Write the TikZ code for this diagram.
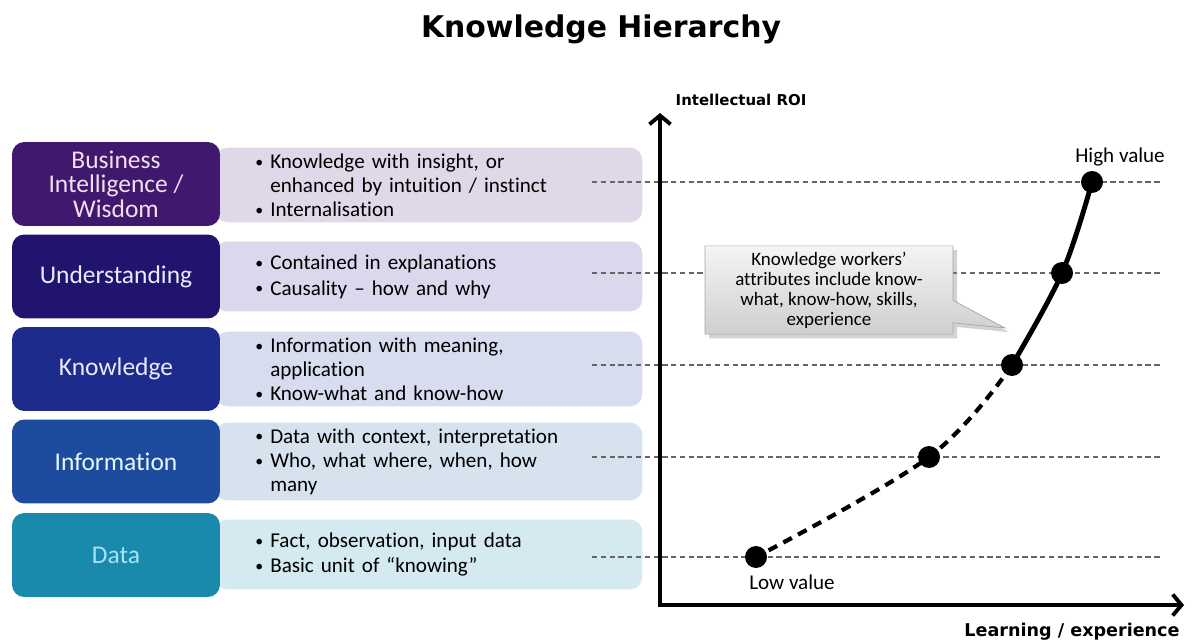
\documentclass[tikz,border=0pt]{standalone}
\usepackage{fontspec}
\setmainfont{Carlito}[Ligatures=NoCommon]
\newfontfamily\headfont{DejaVu Sans}
\usetikzlibrary{arrows.meta,shapes.callouts,shadows}

\definecolor{wisd}{HTML}{40196F}
\definecolor{unde}{HTML}{20146E}
\definecolor{know}{HTML}{1C2B8C}
\definecolor{info}{HTML}{1D4C9F}
\definecolor{data}{HTML}{1A8AAC}
\definecolor{wisl}{HTML}{E0D8E9}
\definecolor{undl}{HTML}{DAD8EC}
\definecolor{knol}{HTML}{D8DCEF}
\definecolor{infl}{HTML}{D7E2EF}
\definecolor{datl}{HTML}{D5E9F1}

\newcommand{\itm}{\makebox[8.5pt][l]{\raisebox{0.6pt}{\scalebox{0.75}{\textbullet}}}}
\newcommand{\cnt}{\hspace*{8.5pt}}

\begin{document}
\begin{tikzpicture}[x=0.02cm,y=-0.02cm]
  \tikzset{ lev/.style={rounded corners=7pt,minimum width=4.16cm,minimum height=1.68cm,align=center,
      font=\fontsize{14.5}{14}\selectfont},
    txt/.style={anchor=west,rounded corners=7pt,minimum width=8.54cm,minimum height=1.4cm,
      text width=6.94cm,inner xsep=0.8cm,align=left,font=\fontsize{12}{13.7}\selectfont},
    v/.style={circle,fill=black,inner sep=0pt,minimum size=0.44cm},
    guide/.style={gray!80!black,line width=0.6pt,dash pattern=on 3pt off 2pt},
    axis/.style={line width=2.2pt,{Straight Barb[length=5pt,width=12pt,line width=2.2pt]}-{Straight Barb[length=5pt,width=12pt,line width=2.2pt]}},
    lbl/.style={font=\fontsize{12}{14}\selectfont},
  }
  \useasboundingbox (0,0) rectangle (1192,644);

  \node[font=\headfont\fontsize{17}{20}\selectfont\bfseries] (title) at (601,29) {Knowledge Hierarchy};

  % description boxes
  \node[txt,fill=wisl] (wist) at (215,185) {\itm Knowledge with insight, or\\\cnt enhanced by intuition / instinct\\\itm Internalisation};
  \node[txt,fill=undl] (undt) at (215,276.5) {\itm Contained in explanations\\[1pt]\itm Causality -- how and why};
  \node[txt,fill=knol] (knot) at (215,369) {\itm Information with meaning,\\\cnt application\\\itm Know-what and know-how};
  \node[txt,fill=infl] (inft) at (215,461.5) {\itm Data with context, interpretation\\\itm Who, what where, when, how\\\cnt many};
  \node[txt,fill=datl] (datt) at (215,554.5) {\itm Fact, observation, input data\\[1pt]\itm Basic unit of “knowing”};

  % levels of the curve
  \coordinate (gl1) at (592,182);  \coordinate (gr1) at (1160,182);
  \coordinate (gl2) at (592,273);  \coordinate (gr2) at (1160,273);
  \coordinate (gl3) at (592,365);  \coordinate (gr3) at (1160,365);
  \coordinate (gl4) at (592,457);  \coordinate (gr4) at (1160,457);
  \coordinate (gl5) at (592,557);  \coordinate (gr5) at (1160,557);
  \draw[guide] (gl1) -- (gr1);
  \draw[guide] (gl2) -- (gr2);
  \draw[guide] (gl3) -- (gr3);
  \draw[guide] (gl4) -- (gr4);
  \draw[guide] (gl5) -- (gr5);

  \node[lev,fill=wisd,text=violet!12] (wis) at (116,184) {Business\\Intelligence /\\Wisdom};
  \node[lev,fill=unde,text=blue!8] (und) at (116,276.5) {Understanding};
  \node[lev,fill=know,text=blue!8] (kno) at (116,369) {Knowledge};
  \node[lev,fill=info,text=cyan!10] (inf) at (116,461.5) {Information};
  \node[lev,fill=data,text=cyan!35] (dat) at (116,555) {Data};

  % the axes
  \coordinate (o) at (660,605);
  \coordinate (yt) at (660,113);
  \coordinate (xt) at (1184,605);
  \draw[axis] (yt) -- (o) -- (xt);
  \node[font=\headfont\fontsize{8.5}{10}\selectfont\bfseries] (roi) at (741,100) {Intellectual ROI};
  \node[font=\headfont\fontsize{10}{12}\selectfont\bfseries] (lrn) at (1072,632) {Learning / experience};

  % the value curve
  \node[v] (v5) at (1092,182) {};
  \node[v] (v4) at (1062,273) {};
  \node[v] (v3) at (1012,365) {};
  \node[v] (v2) at (929,457) {};
  \node[v] (v1) at (756,557) {};
  \draw[line width=2.8pt] plot[smooth,tension=0.6] coordinates {(v5.center) (v4.center) (v3.center)};
  \draw[line width=2.4pt,dash pattern=on 5.5pt off 4pt] plot[smooth,tension=0.6] coordinates {(v3.center) (v2.center) (v1.center)};
  \node[lbl] (hi) at (1120,157) {High value};
  \node[lbl] (lo) at (792,582) {Low value};

  \node[rectangle callout,draw=gray!70,top color=gray!8,bottom color=gray!38,
    drop shadow={opacity=0.35},minimum width=4.96cm,minimum height=1.74cm,align=center,
    font=\fontsize{10.8}{11.4}\selectfont,callout absolute pointer={(1005,328)},callout pointer width=0.45cm]
    (kw) at (829,290) {Knowledge workers’\\attributes include know-\\what, know-how, skills,\\experience};
\end{tikzpicture}
\end{document}
